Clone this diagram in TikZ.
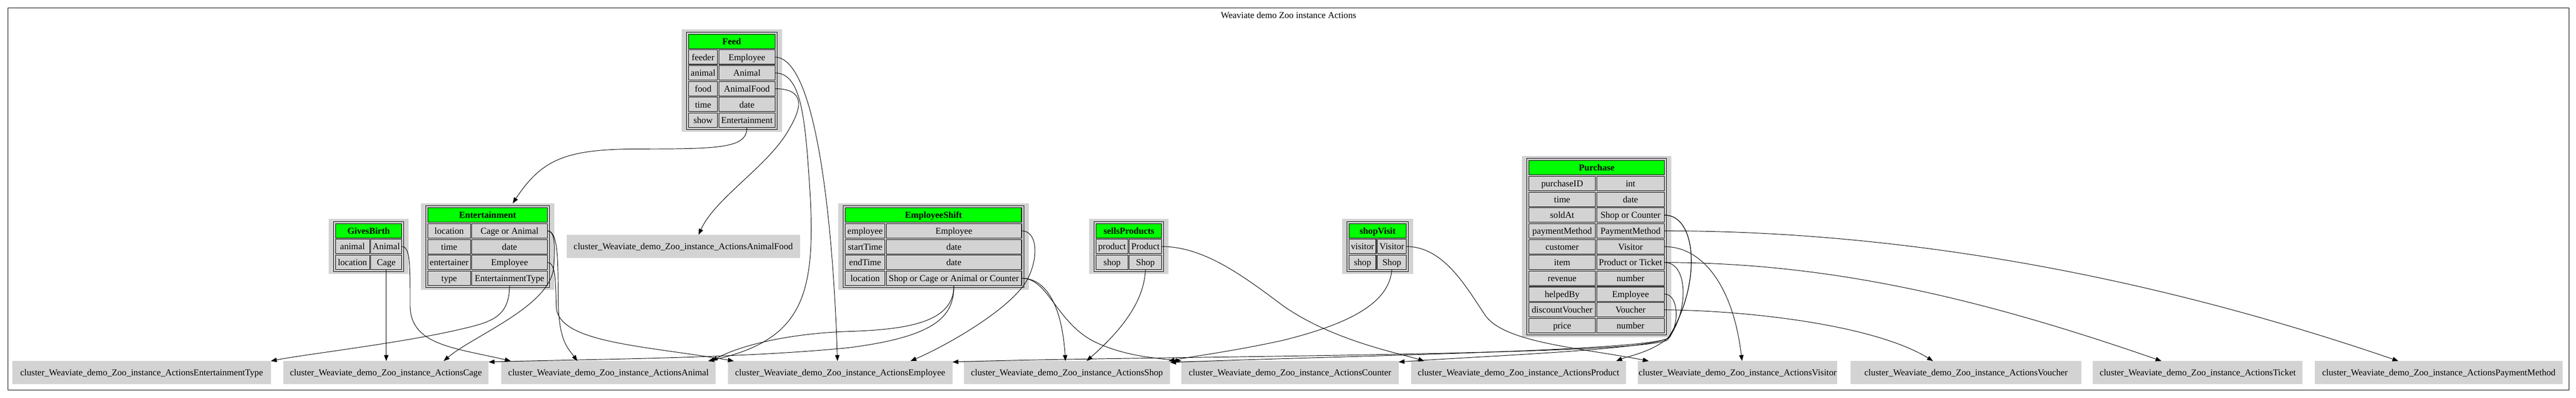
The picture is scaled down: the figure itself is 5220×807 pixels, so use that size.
\documentclass[tikz,border=0pt]{standalone}
\usepackage{fontspec}
\setmainfont{Liberation Serif}
\usetikzlibrary{arrows.meta}
\definecolor{lg}{HTML}{D3D3D3}
\definecolor{hg}{HTML}{00FF00}
\tikzset{
  bgbox/.style={fill=lg, draw=none, anchor=north west, inner sep=0pt, outer sep=0pt},
  tabbox/.style={draw=black, line width=1pt, anchor=north west, inner sep=0pt, outer sep=0pt},
  cellbase/.style={draw=black, line width=1.1pt, anchor=north west, inner sep=0pt, outer sep=0pt, minimum height=29.3pt, text height=13pt, text depth=0.3pt},
  cell/.style={cellbase, fill=lg},
  hdrcell/.style={cellbase, fill=hg},
  cbox/.style={fill=lg, anchor=north west, inner sep=0pt, outer sep=0pt, minimum height=47.3pt, text height=13pt, text depth=0.3pt},
  edge/.style={draw=black, line width=1pt, -{Triangle[length=12pt,width=9pt]}},
}
% #1 name #2 X #3 Y #4 w1 #5 w2 #6 rows #7 header #8 row list
\newcommand\ztab[8]{%
  \pgfmathsetmacro\zW{#4+#5+11}%
  \pgfmathsetmacro\zH{(#6+1)*32+5.3}%
  \node[bgbox, minimum width={\zW+20}, minimum height={\zH+10}] (#1) at ({#2-10},{#3-5}) {};
  \node[tabbox, minimum width=\zW, minimum height=\zH] (#1-t) at (#2,#3) {};
  \node[hdrcell, minimum width={\zW-8.4}] (#1-h) at ({#2+4.2},{#3+4.2}) {\textbf{#7}};
  \foreach \ca/\cb [count=\i] in {#8} {
    \node[cell, minimum width=#4] (#1-\i-a) at ({#2+4.2},{#3+4.2+\i*32}) {\ca};
    \node[cell, minimum width=#5] (#1-\i-b) at ({#2+6.8+#4},{#3+4.2+\i*32}) {\cb};
  }
}
\begin{document}
\begin{tikzpicture}[x=1pt, y=-1pt, font=\fontsize{18.4pt}{22pt}\selectfont]
\useasboundingbox (0,0) rectangle (5220,807);
\node[draw=black, line width=1.3pt, anchor=north west, inner sep=0pt, outer sep=0pt, minimum width=5190pt, minimum height=775pt] (frame) at (16,16) {};
\node[anchor=base] (title) at (2611,37) {Weaviate demo Zoo instance Actions};

% tables
\ztab{feed}{1391}{65}{59}{113.4}{5}{Feed}{feeder/Employee,animal/Animal,food/AnimalFood,time/date,show/Entertainment}
\ztab{gives}{675.7}{449}{68.7}{63}{2}{GivesBirth}{animal/Animal,location/Cage}
\ztab{ent}{862.7}{417.3}{86.6}{153}{4}{Entertainment}{location/Cage or Animal,time/date,entertainer/Employee,type/EntertainmentType}
\ztab{shift}{1708.9}{417.3}{80}{274.5}{4}{EmployeeShift}{employee/Employee,startTime/date,endTime/date,location/Shop or Cage or Animal or Counter}
\ztab{sells}{2217.2}{449}{64.3}{65.7}{2}{sellsProducts}{product/Product,shop/Shop}
\ztab{visit}{2729.3}{449}{55}{58.6}{2}{shopVisit}{visitor/Visitor,shop/Shop}
\ztab{purch}{3094}{321.3}{134.6}{137.3}{10}{Purchase}{purchaseID/int,time/date,soldAt/Shop or Counter,paymentMethod/PaymentMethod,customer/Visitor,item/Product or Ticket,revenue/number,helpedBy/Employee,discountVoucher/Voucher,price/number}

% cluster placeholder boxes
\node[cbox, minimum width=473pt] (afood) at (1148,476) {cluster\_Weaviate\_demo\_Zoo\_instance\_ActionsAnimalFood};
\node[cbox, minimum width=523.5pt] (etype) at (25.3,732) {cluster\_Weaviate\_demo\_Zoo\_instance\_ActionsEntertainmentType};
\node[cbox, minimum width=416pt] (cage) at (574,732) {cluster\_Weaviate\_demo\_Zoo\_instance\_ActionsCage};
\node[cbox, minimum width=434pt] (animal) at (1016,732) {cluster\_Weaviate\_demo\_Zoo\_instance\_ActionsAnimal};
\node[cbox, minimum width=455pt] (employee) at (1475,732) {cluster\_Weaviate\_demo\_Zoo\_instance\_ActionsEmployee};
\node[cbox, minimum width=418pt] (shop) at (1953,732) {cluster\_Weaviate\_demo\_Zoo\_instance\_ActionsShop};
\node[cbox, minimum width=440pt] (counter) at (2394,732) {cluster\_Weaviate\_demo\_Zoo\_instance\_ActionsCounter};
\node[cbox, minimum width=436pt] (product) at (2859,732) {cluster\_Weaviate\_demo\_Zoo\_instance\_ActionsProduct};
\node[cbox, minimum width=404pt] (visitor) at (3319,732) {cluster\_Weaviate\_demo\_Zoo\_instance\_ActionsVisitor};
\node[cbox, minimum width=468pt] (voucher) at (3750,732) {cluster\_Weaviate\_demo\_Zoo\_instance\_ActionsVoucher};
\node[cbox, minimum width=425pt] (ticket) at (4241,732) {cluster\_Weaviate\_demo\_Zoo\_instance\_ActionsTicket};
\node[cbox, minimum width=502pt] (paymethod) at (4691,732) {cluster\_Weaviate\_demo\_Zoo\_instance\_ActionsPaymentMethod};

% edges: Feed
\draw[edge] (feed-5-b.south) .. controls (1514,300) and (1460,302) .. (1300,302) .. controls (1150,302) and (1100,320) .. ([xshift=186.3pt]ent.north west);
\draw[edge] (feed-1-b.east) .. controls (1660,116) and (1690,500) .. ([xshift=222pt]employee.north west);
\draw[edge] (feed-2-b.east) .. controls (1625,148) and (1632,240) .. (1642,400) .. controls (1652,600) and (1625,690) .. ([xshift=419pt]animal.north west);
\draw[edge] (feed-3-b.east) .. controls (1632,180) and (1625,218) .. (1600,260) .. controls (1560,335) and (1450,400) .. ([xshift=267.6pt]afood.north west);
% GivesBirth
\draw[edge] (gives-1-b.east) .. controls (832,500) and (831,540) .. (831,620) .. controls (832,700) and (920,705) .. ([xshift=19pt]animal.north west);
\draw[edge] (gives-2-b.south) -- (gives-2-b.south |- cage.north);
% Entertainment
\draw[edge] (ent-4-b.south) .. controls (1032,640) and (1000,652) .. (940,666) .. controls (820,695) and (620,718) .. (etype.north east);
\draw[edge] (ent-1-b.east) .. controls (1125,468) and (1125,500) .. (1122,540) .. controls (1118,620) and (960,680) .. ([xshift=325pt]cage.north west);
\draw[edge] (ent-1-b.east) .. controls (1130,468) and (1131,520) .. (1131,600) .. controls (1131,690) and (1150,705) .. ([xshift=154pt]animal.north west);
\draw[edge] (ent-3-b.east) .. controls (1126,532) and (1126,570) .. (1127,620) .. controls (1128,695) and (1300,700) .. ([xshift=12pt]employee.north west);
% EmployeeShift
\draw[edge] (shift-1-b.east) .. controls (2102,468) and (2104,520) .. (2085,560) .. controls (2060,620) and (1920,700) .. ([xshift=370pt]employee.north west);
\draw[edge] (shift-4-b.south) .. controls (1933,640) and (1900,682) .. (1720,705) .. controls (1500,727) and (1200,728) .. ([yshift=-2pt]cage.north east);
\draw[edge] (shift-4-b.south) .. controls (1933,650) and (1850,668) .. (1720,672) .. controls (1600,676) and (1500,700) .. ([xshift=426pt]animal.north west);
\draw[edge] (shift-4-b.east) .. controls (2120,564) and (2152,620) .. ([xshift=206pt]shop.north west);
\draw[edge] (shift-4-b.east) .. controls (2125,564) and (2140,655) .. (2220,694) .. controls (2280,722) and (2340,726) .. (counter.north west);
% sellsProducts
\draw[edge] (sells-1-b.east) .. controls (2440,500) and (2520,560) .. (2600,620) .. controls (2700,690) and (2830,715) .. ([xshift=27pt]product.north west);
\draw[edge] (sells-2-b.south) .. controls (2318,620) and (2260,680) .. ([xshift=249pt]shop.north west);
% shopVisit
\draw[edge] (visit-1-b.east) .. controls (2925,500) and (2970,580) .. (3010,640) .. controls (3050,695) and (3200,705) .. ([xshift=22pt]visitor.north west);
\draw[edge] (visit-2-b.south) .. controls (2815,620) and (2720,660) .. (2600,690) .. controls (2500,712) and (2420,722) .. ([xshift=-3pt]shop.north east);
% Purchase
\draw[edge] (purch-3-b.east) .. controls (3440,436) and (3448,580) .. (3380,686) .. controls (3330,712) and (2700,722) .. ([yshift=-3pt]shop.north east);
\draw[edge] (purch-3-b.east) .. controls (3440,436) and (3448,580) .. (3380,686) .. controls (3330,710) and (3000,722) .. ([yshift=-2pt]counter.north east);
\draw[edge] (purch-4-b.east) .. controls (3800,468) and (4300,540) .. ([xshift=169pt]paymethod.north west);
\draw[edge] (purch-5-b.east) .. controls (3450,500) and (3512,580) .. ([xshift=211pt]visitor.north west);
\draw[edge] (purch-6-b.east) .. controls (3700,533) and (4000,600) .. ([xshift=139pt]ticket.north west);
\draw[edge] (purch-6-b.east) .. controls (3420,532) and (3422,625) .. (3385,680) .. controls (3355,712) and (3300,722) .. ([xshift=416pt]product.north west);
\draw[edge] (purch-8-b.east) .. controls (3402,596) and (3405,662) .. (3378,690) .. controls (3300,722) and (2300,722) .. ([yshift=-2pt]employee.north east);
\draw[edge] (purch-9-b.east) .. controls (3550,630) and (3800,660) .. ([xshift=167pt]voucher.north west);
\end{tikzpicture}
\end{document}
